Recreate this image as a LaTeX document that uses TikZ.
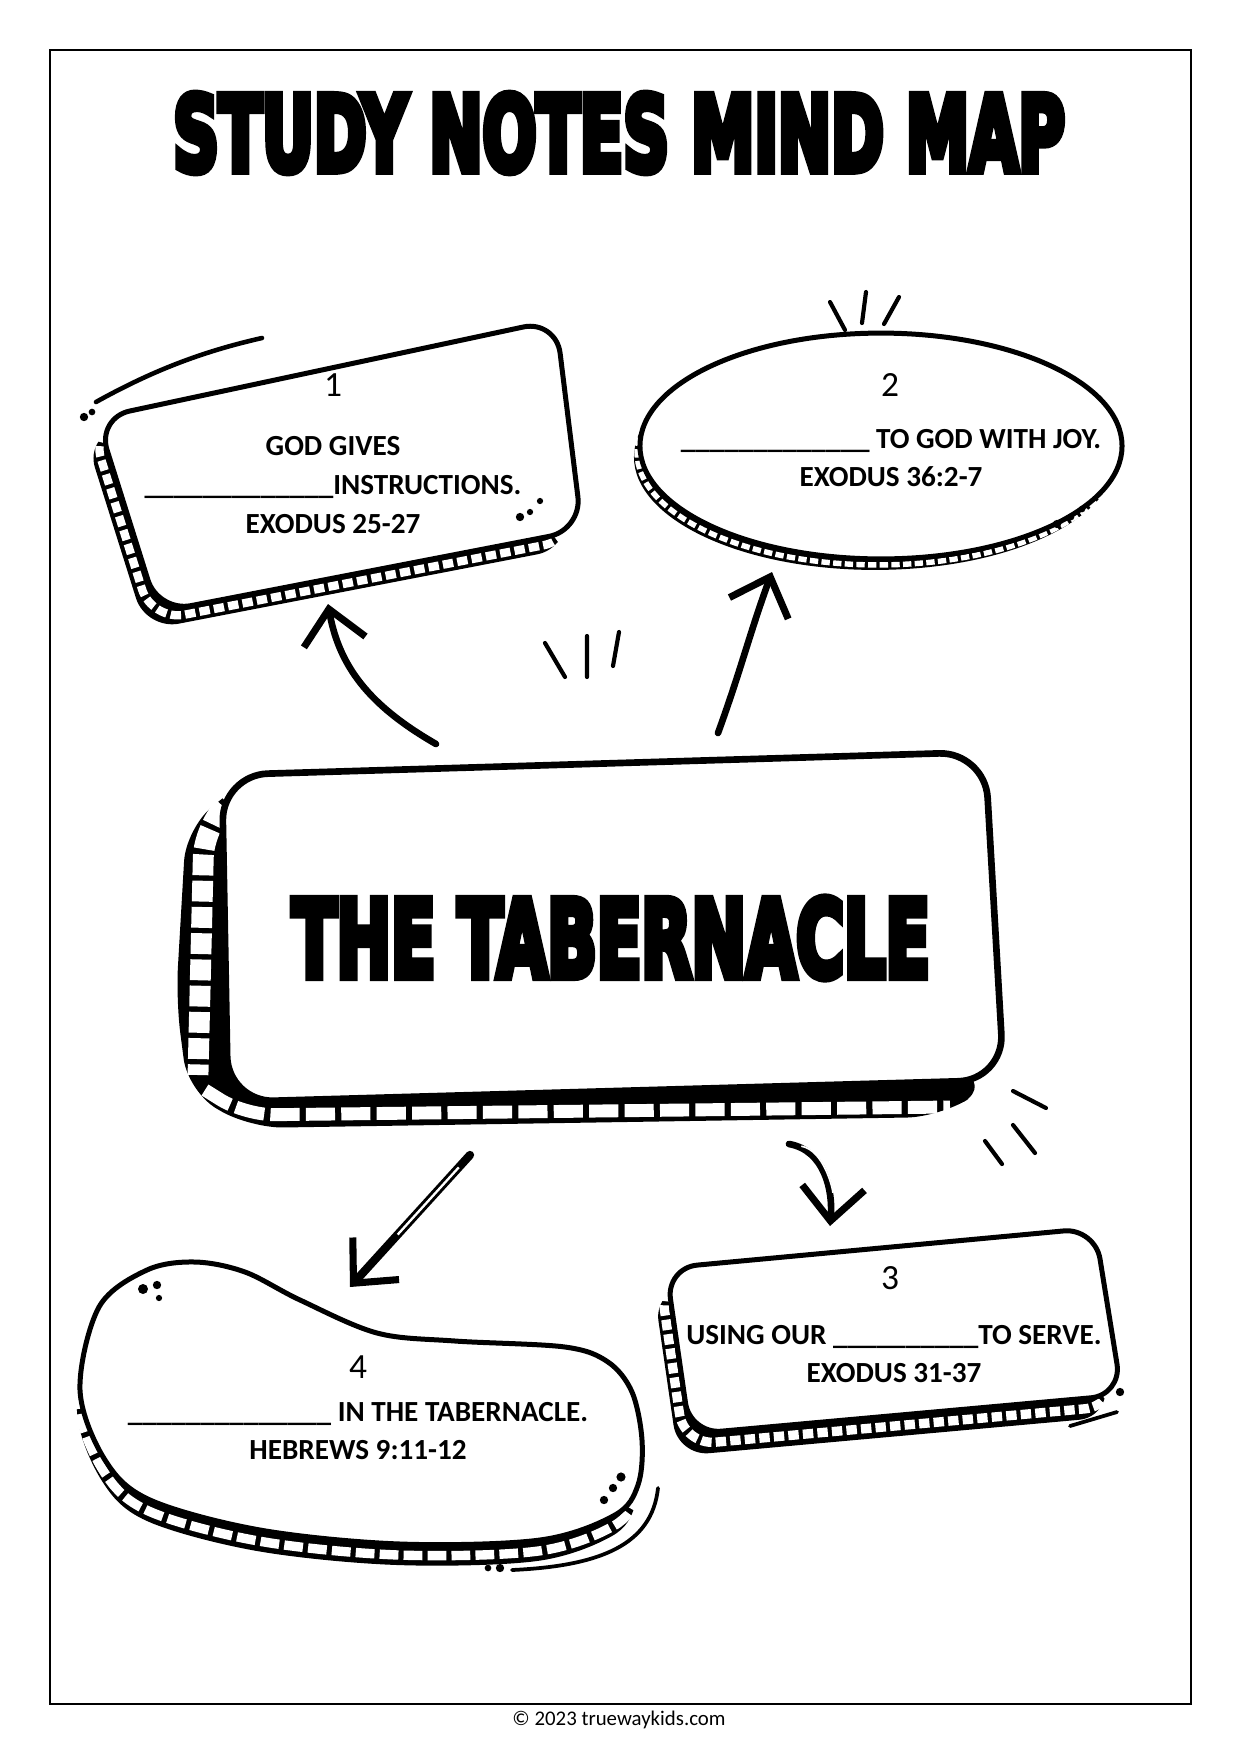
\documentclass[tikz,border=0pt]{standalone}
\usepackage{fontspec}
\setmainfont{Carlito}
\newfontfamily\heavyfont{DejaVu Sans Condensed}[UprightFont={* Bold}]
\usetikzlibrary{arrows.meta}

% outlines of the four note boxes and the centre box (page pixels)
\newcommand{\boxonepath}{(97,418) -- (556,320) -- (582,530) -- (158,612) -- cycle}
\newcommand{\tabpath}{(222,775) -- (985,752) -- (1004,1080) -- (228,1102) -- cycle}
\newcommand{\tabbandpath}{(250,776) -- (186,828) -- (176,1000) -- (188,1092) -- (250,1128) -- (940,1117) -- (992,1084) -- cycle}
\newcommand{\boxthreepath}{(666,1268) -- (1095,1228) -- (1122,1395) -- (690,1434) -- cycle}
\newcommand{\boxfourpath}{plot[smooth cycle, tension=0.55] coordinates {(80,1390) (99,1307) (147,1270) (195,1262) (245,1272) (300,1300) (377,1333) (455,1341) (565,1347) (608,1362) (632,1392) (642,1440) (638,1485) (615,1515) (540,1540) (400,1544) (260,1530) (150,1500) (105,1460)}}
% heavy heading: letters filled and stroked
\newcommand{\heavytext}[3]{\resizebox{#2}{#3}{\special{pdf:literal direct 2 Tr 0.8 w}\heavyfont #1\special{pdf:literal direct 0 Tr}}}

\tikzset{
  facebox/.style={draw, line width=2.4pt, fill=white, line join=round},
  bandback/.style={fill=black},
  rungs/.style={draw=white, line width=#1},
  spark/.style={line width=2pt, line cap=round},
  dot/.style={fill=black},
  sketcharrow/.style={line width=3.2pt, line cap=round,
    -{Straight Barb[length=16pt, width=30pt, line width=3.4pt]}},
  numtext/.style={font=\fontsize{17}{20}\selectfont},
  notetext/.style={font=\bfseries\fontsize{14}{18.5}\selectfont, align=center},
}

\begin{document}
\begin{tikzpicture}[x=0.48pt, y=-0.48pt]
  \useasboundingbox (0,0) rectangle (1241,1754);
  \draw[line width=1.3pt] (50,50) rectangle (1191,1704);

  \node (title) at (619,133) {\heavytext{STUDY NOTES MIND MAP}{428pt}{37pt}};

  % box 1
  \fill[bandback, shift={(-12,18)}, rounded corners=16pt] \boxonepath;
  \draw[rungs=4pt, dash pattern=on 5pt off 2pt, shift={(-6,9)}, rounded corners=16pt] \boxonepath;
  \draw[facebox, rounded corners=16pt] \boxonepath;
  \draw[line width=2.2pt, line cap=round] (96,402) .. controls (150,372) and (200,352) .. (262,338);
  \fill[dot] (84,417) circle[radius=2pt] (92,412) circle[radius=1.6pt];
  \fill[dot] (520,517) circle[radius=2pt] (530,512) circle[radius=1.5pt] (540,501) circle[radius=1.5pt];

  % box 2
  \fill[bandback, shift={(-6,11)}] (881,446) ellipse[x radius=115.7pt, y radius=54.2pt];
  \draw[rungs=2.6pt, dash pattern=on 4pt off 1.6pt, shift={(-3,6)}] (881,446) ellipse[x radius=115.7pt, y radius=54.2pt];
  \draw[facebox] (881,446) ellipse[x radius=115.7pt, y radius=54.2pt];
  \fill[dot] (1057,524) circle[radius=2pt] (1071,517) circle[radius=1.6pt] (1082,509) circle[radius=1.6pt];

  % centre box
  \fill[bandback, rounded corners=16pt] \tabbandpath;
  \draw[rungs=10pt, dash pattern=on 10pt off 2.6pt, rounded corners=14pt] (242,788) -- (204,828) -- (198,1075);
  \draw[rungs=6.2pt, dash pattern=on 14pt off 3pt, rounded corners=14pt] (205,1090) -- (245,1115) -- (950,1107);
  \draw[facebox, line width=3.2pt, rounded corners=22pt] \tabpath;
  \node (tab) at (611,938) {\heavytext{THE TABERNACLE}{306pt}{38pt}};

  % box 3
  \fill[bandback, shift={(-12,22)}, rounded corners=15pt] \boxthreepath;
  \draw[rungs=4.5pt, dash pattern=on 5pt off 2pt, shift={(-6,11)}, rounded corners=15pt] \boxthreepath;
  \draw[facebox, rounded corners=15pt] \boxthreepath;
  \draw[line width=1.8pt, line cap=round] (1070,1426) -- (1117,1412);
  \fill[dot] (1120,1392) circle[radius=2pt];

  % box 4
  \fill[bandback, shift={(-3,21)}] \boxfourpath;
  \draw[rungs=4.5pt, dash pattern=on 9pt off 2.5pt, shift={(-1.5,11)}] \boxfourpath;
  \draw[facebox] \boxfourpath;
  \fill[dot] (143,1289) circle[radius=2.4pt] (157,1285) circle[radius=2pt] (159,1298) circle[radius=1.5pt];
  \fill[dot] (613,1488) circle[radius=2pt] (621,1477) circle[radius=2.2pt] (604,1500) circle[radius=2pt];
  \fill[dot] (488,1568) circle[radius=1.6pt] (500,1568) circle[radius=2pt];
  \draw[line width=1.8pt, line cap=round] (512,1570) .. controls (600,1566) and (652,1545) .. (658,1488);

  % texts
  \node[numtext] (num1) at (333,385) {1};
  \node[notetext] (note1) at (333,485) {GOD GIVES\\\_\_\_\_\_\_\_\_\_\_\_\_\_INSTRUCTIONS.\\EXODUS 25-27};
  \node[numtext] (num2) at (890,385) {2};
  \node[notetext] (note2) at (891,458) {\_\_\_\_\_\_\_\_\_\_\_\_\_ TO GOD WITH JOY.\\EXODUS 36:2-7};
  \node[numtext] (num3) at (890,1278) {3};
  \node[notetext] (note3) at (894,1354) {USING OUR \_\_\_\_\_\_\_\_\_\_TO SERVE.\\EXODUS 31-37};
  \node[numtext] (num4) at (358,1367) {4};
  \node[notetext] (note4) at (358,1431) {\_\_\_\_\_\_\_\_\_\_\_\_\_\_ IN THE TABERNACLE.\\HEBREWS 9:11-12};
  \node[font=\fontsize{10}{12}\selectfont] (copy) at (619,1720) {© 2023 truewaykids.com};

  % arrows
  \coordinate (aFrom) at (436,744);
  \coordinate (aTo) at (328,604);
  \coordinate (bFrom) at (718,733);
  \coordinate (bTo) at (772,572);
  \coordinate (cFrom) at (470,1155);
  \coordinate (cTo) at (350,1287);
  \coordinate (dFrom) at (789,1144);
  \coordinate (dTo) at (830,1226);
  \draw[sketcharrow] (aFrom) to[out=150, in=-80] (aTo);
  \draw[sketcharrow] (bFrom) to[out=70, in=-110] (bTo);
  \draw[sketcharrow, line width=4pt] (cFrom) -- (cTo);
  \draw[white, line width=1.1pt, shorten >=34pt, shorten <=8pt] (cFrom) -- (cTo);
  \draw[sketcharrow] (dFrom) to[out=-10, in=85] (dTo);
  \draw[white, line width=0.8pt, shorten >=16pt, shorten <=6pt] (dFrom) to[out=-10, in=85] (dTo);

  % sparks
  \draw[spark] (830,302) -- (845,330) (866,292) -- (862,323) (899,297) -- (884,324);
  \draw[spark] (545,643) -- (565,677) (587,636) -- (587,677) (619,632) -- (613,666);
  \draw[spark] (1013,1091) -- (1046,1108) (1013,1125) -- (1035,1153) (985,1141) -- (1002,1164);
\end{tikzpicture}
\end{document}
